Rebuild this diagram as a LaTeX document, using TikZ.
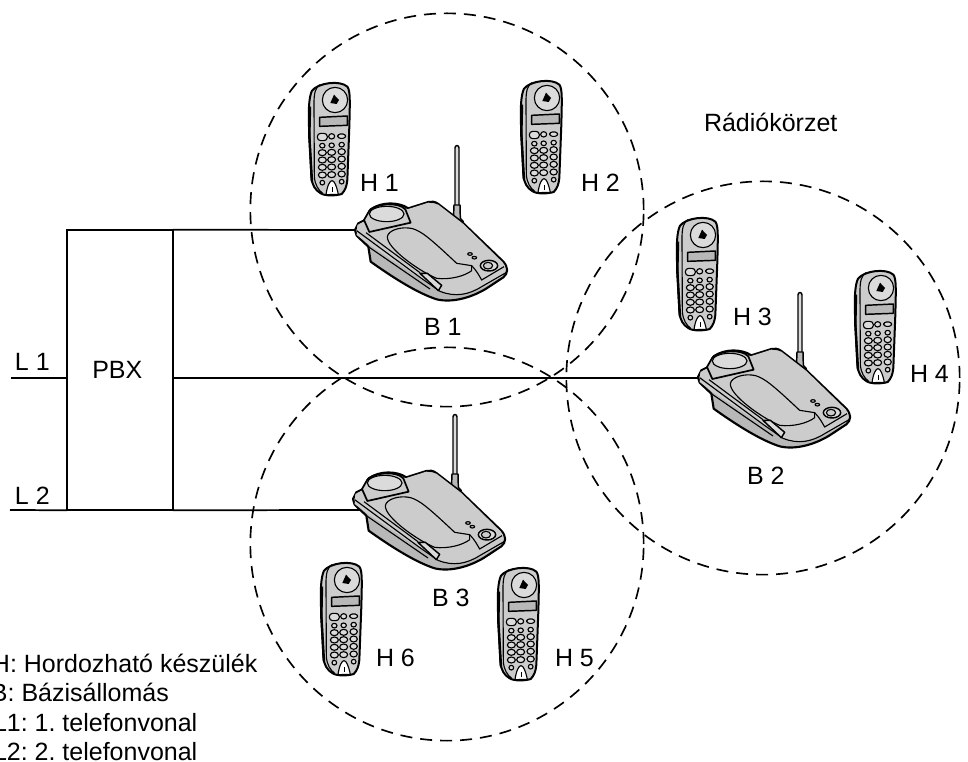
\documentclass[tikz,border=0pt]{standalone}
\usepackage{fontspec}
\setmainfont{Liberation Sans}
\frenchspacing
\definecolor{bodygray}{gray}{0.80}
\definecolor{sidegray}{gray}{0.72}
\definecolor{padgray}{gray}{0.86}
\tikzset{
  lab/.style={anchor=base west,inner sep=0pt,outer sep=0pt,font=\fontsize{18.75pt}{21pt}\selectfont},
  wire/.style={line width=1.3pt},
  zone/.style={line width=1.25pt,dash pattern=on 9pt off 6pt},
  box/.style={draw,line width=1.3pt,minimum width=79.5pt,minimum height=210.4pt,inner sep=0pt,outer sep=0pt,font=\fontsize{18.75pt}{21pt}\selectfont},
  outl/.style={draw=black,line width=1.4pt,line join=round},
  fine/.style={draw=black,line width=.85pt,line join=round}
}
\newcommand{\handset}[1]{%
\begin{scope}[shift={(#1)},x=.25pt,y=-.25pt]
 \path[outl,fill=bodygray,line width=1.5pt] (66,62) .. controls (85,38) and (150,30) .. (172,50)
   .. controls (181,62) and (180,90) .. (178,170) -- (172,330)
   .. controls (170,350) and (165,362) .. (155,372) .. controls (135,378) and (105,378) .. (92,370)
   .. controls (75,360) and (66,345) .. (64,320) -- (57,170) .. controls (55,120) and (57,80) .. (66,62) -- cycle;
 \draw[line width=1.8pt] (60,110) -- (58,200) -- (66,335);
 \draw[fine] (90,44) .. controls (76,52) and (72,70) .. (72,100) -- (73,320) .. controls (75,345) and (85,360) .. (98,370);
 \path[fine,fill=padgray] (135,90) circle (38);
 \path[fill=black] (121,99) -- (132,74) -- (147,90) -- (140,102) -- cycle;
 \path[outl,fill=sidegray,line width=1.1pt] (89,142) -- (172,138) -- (172,166) -- (89,169) -- cycle;
 \path[fine,fill=padgray,rounded corners=2.5pt] (82,190) rectangle (112,212);
 \path[fine,fill=padgray] (125,199) ellipse (9 and 8);
 \path[fine,fill=padgray,rounded corners=2pt] (143,192) rectangle (167,205);
 \path[fine,fill=padgray] (97,227) ellipse (8 and 7);
 \path[fine,fill=padgray] (125,226) ellipse (8 and 7);
 \path[fine,fill=padgray] (155,224) ellipse (8 and 7);
 \foreach \yy in {248,270,292,315}{
   \path[fine,fill=padgray] (97,\yy) ellipse (12 and 9);
   \path[fine,fill=padgray] (125,\yy-1) ellipse (12 and 9);
   \path[fine,fill=padgray] (155,\yy-3) ellipse (11 and 9);
 }
 \path[fine,fill=padgray] (97,338) circle (7);
 \path[fine,fill=padgray] (155,335) circle (7);
 \path[fine,fill=white] (108,374) .. controls (112,345) and (120,332) .. (126,332) .. controls (134,332) and (140,350) .. (145,373) -- cycle;
 \path[fill=black] (125,352) rectangle (130,365);
\end{scope}}
\newcommand{\basestation}[1]{%
\begin{scope}[shift={(#1)},x=.25pt,y=-.25pt]
 % antenna
 \path[outl,fill=padgray,line width=1.1pt] (345,24) .. controls (345,14) and (357,14) .. (357,24) -- (357,200) -- (345,200) -- cycle;
 \path[outl,fill=sidegray,line width=1.1pt] (342,195) -- (360,195) -- (361,235) -- (370,245) -- (340,245) -- cycle;
 % body
 \path[outl,fill=sidegray,line width=1.6pt] (45,270) -- (55,250) -- (75,240) -- (92,208)
   .. controls (125,185) and (175,185) .. (205,205)
   -- (265,186) .. controls (275,183) and (285,185) .. (295,192) -- (370,250) -- (490,365)
   .. controls (505,382) and (505,400) .. (490,412)
   -- (440,445) .. controls (400,470) and (340,490) .. (290,478)
   .. controls (250,465) and (190,435) .. (92,365) -- (85,320) -- (50,287) -- cycle;
 % upper deck
 \path[fill=bodygray] (52,255) -- (75,243) -- (92,210) -- (205,207) -- (265,188) -- (295,194) -- (370,252) -- (488,367)
   .. controls (500,382) and (500,395) .. (488,408) -- (430,442)
   .. controls (380,468) and (340,472) .. (300,455) -- (85,312) -- (50,285) -- cycle;
 % tray
 \path[fine,fill=bodygray] (142,290) .. controls (145,270) and (185,258) .. (218,266)
   .. controls (245,275) and (265,290) .. (350,370) -- (395,377) -- (395,392) .. controls (375,408) and (330,420) .. (290,415)
   .. controls (240,395) and (140,325) .. (142,290) -- cycle;
 % front edges
 \draw[fine] (50,272) -- (240,412) -- (300,454) .. controls (345,472) and (385,465) .. (425,440) -- (498,398);
 \draw[fine] (78,278) -- (240,398);
 \draw[fine] (85,320) -- (270,447);
 \draw[fine] (395,377) .. controls (410,392) and (418,408) .. (425,420) -- (492,380);
 \path[outl,fill=padgray,line width=1.1pt] (240,400) -- (262,400) -- (305,436) -- (295,452) -- cycle;
 % cradle
 \path[outl,fill=bodygray,line width=1.3pt] (72,240) -- (88,212) .. controls (110,190) and (175,185) .. (196,208) -- (212,248) -- (88,276) -- cycle;
 \path[fine,fill=padgray] (140,222) ellipse (52 and 23);
 % leds and button
 \path[fine,fill=sidegray] (390,342) ellipse (7 and 4);
 \path[fine,fill=sidegray] (403,353) ellipse (7 and 4);
 \path[outl,fill=padgray,line width=1.1pt] (447,377) ellipse (26 and 16);
 \path[fine,fill=bodygray] (444,377) ellipse (14 and 10);
\end{scope}}
\begin{document}
\begin{tikzpicture}[x=.75pt,y=-.75pt]
\clip (0,0) rectangle (968,762);
\path[fill=white] (0,0) rectangle (968,762);
% zones
\draw[zone] (447,210) circle (147.5pt);
\draw[zone] (763,378) circle (147.5pt);
\draw[zone] (447,544) circle (147.5pt);
% exchange
\node[box] (pbx) at (120,370) {\hspace*{-4pt}\raisebox{-7.5pt}{PBX}};
\coordinate (pbxA) at (pbx.north east);
\coordinate (pbxC) at (pbx.south east);
\coordinate (pbxB) at (pbx.east |- 0,378);
\coordinate (inA) at (pbx.west |- 0,378);
\coordinate (inB) at (pbx.south west);
\coordinate (extA) at (11,378);
\coordinate (extB) at (10,510);
\coordinate (baseA) at (358,230);
\coordinate (baseB) at (700,378);
\coordinate (baseC) at (364,510);
\draw[wire] (extA) -- (inA);
\draw[wire] (extB) -- (inB);
\draw[wire] (pbxA) -- (baseA);
\draw[wire] (pbxB) -- (baseB);
\draw[wire] (pbxC) -- (baseC);
% equipment
\basestation{340,140}
\basestation{683,287}
\basestation{338,409}
\handset{290,70}
\handset{502,68}
\handset{658,205}
\handset{836,258}
\handset{479,555}
\handset{302,550}
% labels
\node[lab] (h1) at (360,192) {H 1};
\node[lab] (h2) at (581,192) {H 2};
\node[lab] (h3) at (733,326) {H 3};
\node[lab] (h4) at (910,383) {H 4};
\node[lab] (h5) at (555,667) {H 5};
\node[lab] (h6) at (376,667) {H 6};
\node[lab] (b1) at (424,336) {B 1};
\node[lab] (b2) at (747,485) {B 2};
\node[lab] (b3) at (432,607) {B 3};
\node[lab] (l1) at (15,371) {L 1};
\node[lab] (l2) at (15,505) {L 2};
\node[lab] (rk) at (704,132) {Rádiókörzet};
\node[lab] (k1) at (-8,672) {H: Hordozható készülék};
\node[lab] (k2) at (-9,701) {B: Bázisállomás};
\node[lab] (k3) at (-7,731) {L1: 1. telefonvonal};
\node[lab] (k4) at (-7,760) {L2: 2. telefonvonal};
\end{tikzpicture}
\end{document}
